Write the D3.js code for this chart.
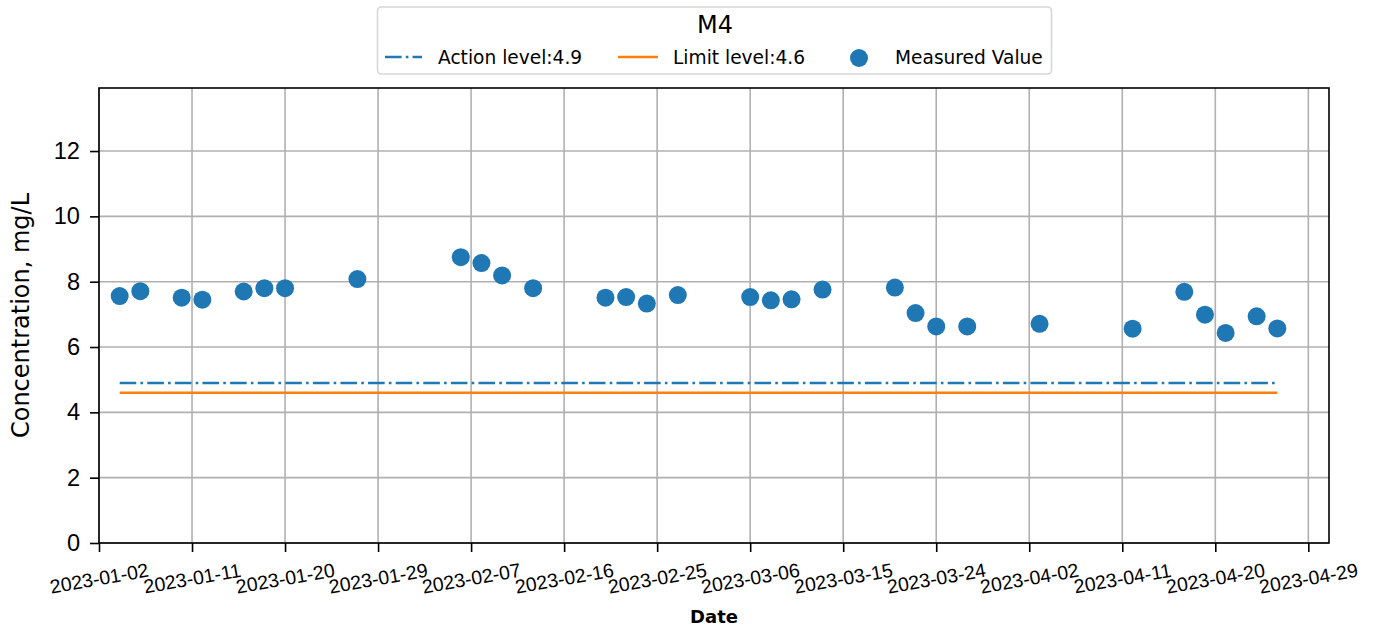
<!DOCTYPE html>
<html>
<head>
<meta charset="utf-8">
<script src="https://cdn.jsdelivr.net/npm/d3@7"></script>
<style>
  body { margin: 0; background: #fff; }
  svg { font-family: "DejaVu Sans", sans-serif; }
  .grid line { stroke: #b0b0b0; stroke-width: 1.6; }
  .axis path, .axis line { stroke: #000; stroke-width: 1.6; }
</style>
</head>
<body>
<svg width="1379" height="631"></svg>
<script>
var dates = ['2023-01-04', '2023-01-06', '2023-01-10', '2023-01-12', '2023-01-16', '2023-01-18',
    '2023-01-20', '2023-01-27', '2023-02-06', '2023-02-08', '2023-02-10', '2023-02-13',
    '2023-02-20', '2023-02-22', '2023-02-24', '2023-02-27', '2023-03-06', '2023-03-08',
    '2023-03-10', '2023-03-13', '2023-03-20', '2023-03-22', '2023-03-24', '2023-03-27',
    '2023-04-03', '2023-04-12', '2023-04-17', '2023-04-19', '2023-04-21', '2023-04-24',
    '2023-04-26'];
var values = [7.56, 7.71, 7.51, 7.45, 7.70, 7.80, 7.80, 8.08, 8.75, 8.57, 8.19, 7.80,
    7.51, 7.53, 7.33, 7.59, 7.53, 7.43, 7.46, 7.76, 7.82, 7.04, 6.63, 6.63,
    6.71, 6.56, 7.69, 6.99, 6.43, 6.94, 6.57];
var actionLevel = 4.9;
var limitLevel = 4.6;
var xTicks = ['2023-01-02', '2023-01-11', '2023-01-20', '2023-01-29', '2023-02-07', '2023-02-16',
    '2023-02-25', '2023-03-06', '2023-03-15', '2023-03-24', '2023-04-02', '2023-04-11',
    '2023-04-20', '2023-04-29'];
var yTicks = [0, 2, 4, 6, 8, 10, 12];
var xDomain = ['2023-01-02', '2023-05-01'];
var yDomain = [0, 13.93];

var parse = d3.utcParse('%Y-%m-%d');
var blue = '#1f77b4', orange = '#ff7f0e';

var svg = d3.select('svg');
var pl = 99, pr = 1329, pt = 88, pb = 543;

var x = d3.scaleUtc().domain(xDomain.map(parse)).range([pl, pr]);
var y = d3.scaleLinear().domain(yDomain).range([pb, pt]);

// grid
var grid = svg.append('g').attr('class', 'grid');
grid.selectAll('.vx').data(xTicks.map(parse)).enter().append('line')
    .attr('x1', function(d) {return x(d);}).attr('x2', function(d) {return x(d);})
    .attr('y1', pt).attr('y2', pb);
grid.selectAll('.hy').data(yTicks).enter().append('line')
    .attr('x1', pl).attr('x2', pr)
    .attr('y1', function(d) {return y(d);}).attr('y2', function(d) {return y(d);});

// level lines span the measured dates
var first = parse(dates[0]), last = parse(dates[dates.length - 1]);
svg.append('line')
    .attr('x1', x(first)).attr('x2', x(last))
    .attr('y1', y(actionLevel)).attr('y2', y(actionLevel))
    .attr('stroke', blue).attr('stroke-width', 2.6)
    .attr('stroke-dasharray', '16.6,4.2,2.6,4.2');
svg.append('line')
    .attr('x1', x(first)).attr('x2', x(last))
    .attr('y1', y(limitLevel)).attr('y2', y(limitLevel))
    .attr('stroke', orange).attr('stroke-width', 2.6);

// points
svg.append('g').selectAll('circle').data(dates).enter().append('circle')
    .attr('cx', function(d) {return x(parse(d));})
    .attr('cy', function(d, i) {return y(values[i]);})
    .attr('r', 9)
    .attr('fill', blue);

// frame
svg.append('rect')
    .attr('x', pl).attr('y', pt)
    .attr('width', pr - pl).attr('height', pb - pt)
    .attr('fill', 'none').attr('stroke', '#000').attr('stroke-width', 1.6);

// x axis
var xAxis = svg.append('g').attr('class', 'axis')
    .attr('transform', 'translate(0,' + pb + ')')
    .call(d3.axisBottom(x).tickValues(xTicks.map(parse)).tickSizeInner(9).tickSizeOuter(0)
        .tickFormat(d3.utcFormat('%Y-%m-%d')));
xAxis.select('.domain').remove();
xAxis.selectAll('text')
    .attr('font-size', 19.5).attr('fill', '#000')
    .attr('text-anchor', 'middle')
    .attr('y', 0).attr('dy', 0)
    .attr('transform', 'translate(0,37) rotate(-10)')
    .attr('dominant-baseline', 'middle');

// y axis
var yAxis = svg.append('g').attr('class', 'axis')
    .attr('transform', 'translate(' + pl + ',0)')
    .call(d3.axisLeft(y).tickValues(yTicks).tickSizeInner(9).tickSizeOuter(0).tickPadding(10));
yAxis.select('.domain').remove();
yAxis.selectAll('text').attr('font-size', 23.6).attr('fill', '#000');

svg.append('text')
    .attr('x', (pl + pr) / 2).attr('y', 623)
    .attr('text-anchor', 'middle').attr('font-size', 18).attr('font-weight', 'bold')
    .text('Date');
svg.append('text')
    .attr('transform', 'translate(29,' + (pt + pb) / 2 + ') rotate(-90)')
    .attr('text-anchor', 'middle').attr('font-size', 24)
    .text('Concentration, mg/L');

// legend
var lg = svg.append('g');
lg.append('rect')
    .attr('x', 377.5).attr('y', 7).attr('width', 674).attr('height', 67)
    .attr('rx', 4).attr('fill', '#fff').attr('stroke', '#d6d6d6').attr('stroke-width', 1.6);
lg.append('text').attr('x', 715).attr('y', 33).attr('text-anchor', 'middle')
    .attr('font-size', 24).text('M4');
lg.append('line').attr('x1', 385).attr('x2', 422).attr('y1', 57).attr('y2', 57)
    .attr('stroke', blue).attr('stroke-width', 2.6).attr('stroke-dasharray', '16.6,4.2,2.6,4.2');
lg.append('text').attr('x', 438).attr('y', 64).attr('font-size', 18.6).text('Action level:' + actionLevel);
lg.append('line').attr('x1', 618).attr('x2', 658).attr('y1', 57).attr('y2', 57)
    .attr('stroke', orange).attr('stroke-width', 2.6);
lg.append('text').attr('x', 673).attr('y', 64).attr('font-size', 18.6).text('Limit level:' + limitLevel);
lg.append('circle').attr('cx', 859).attr('cy', 58).attr('r', 9).attr('fill', blue);
lg.append('text').attr('x', 895).attr('y', 64).attr('font-size', 18.6).text('Measured Value');
</script>
</body>
</html>
